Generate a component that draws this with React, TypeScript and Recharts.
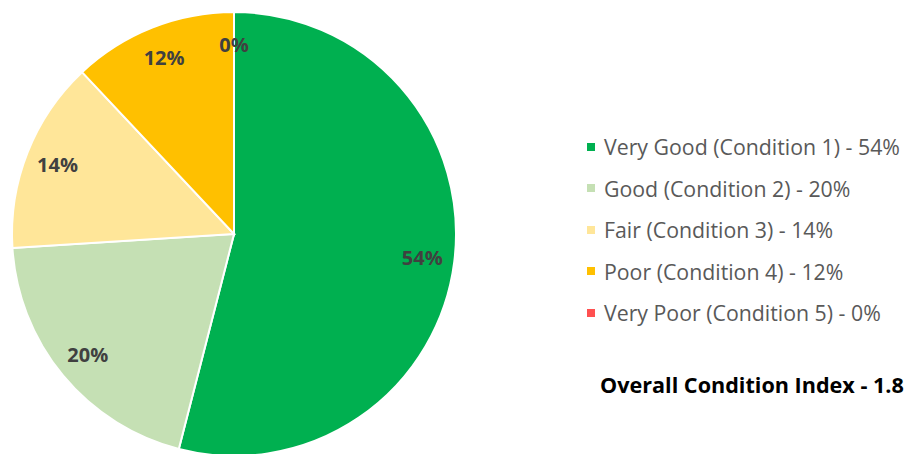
import { PieChart, Pie, Cell } from "recharts"

const CATEGORIES = [
  "Very Good (Condition 1)",
  "Good (Condition 2)",
  "Fair (Condition 3)",
  "Poor (Condition 4)",
  "Very Poor (Condition 5)",
]
const SHARES = [54, 20, 14, 12, 0]
const COLOURS = ["#00B050", "#C5E0B4", "#FFE699", "#FFC000", "#FF5050"]
const OVERALL_INDEX = "1.8"

const data = CATEGORIES.map((name, i) => ({ name, value: SHARES[i] }))

const RAD = Math.PI / 180

function renderLabel(props: any) {
  const { cx, cy, midAngle, outerRadius, value } = props
  const r = outerRadius * 0.855
  const x = cx + r * Math.cos(-midAngle * RAD)
  const y = cy + r * Math.sin(-midAngle * RAD)
  return (
    <text
      x={x}
      y={y}
      textAnchor="middle"
      dominantBaseline="central"
      fill="#404040"
      style={{ fontSize: 20, fontWeight: 700, fontFamily: "Open Sans, sans-serif" }}
    >
      {value}%
    </text>
  )
}

export default function App() {
  return (
    <div
      style={{
        position: "absolute",
        left: 0,
        top: 0,
        width: 920,
        height: 454,
        background: "#ffffff",
        overflow: "hidden",
        fontFamily: "Open Sans, sans-serif",
      }}
    >
      <PieChart width={920} height={454} margin={{ top: 0, right: 0, bottom: 0, left: 0 }}>
        <Pie
          data={data}
          dataKey="value"
          nameKey="name"
          cx={234}
          cy={234}
          outerRadius={222}
          startAngle={90}
          endAngle={-270}
          stroke="#ffffff"
          strokeWidth={2}
          label={renderLabel}
          labelLine={false}
          isAnimationActive={false}
        >
          {data.map((d, i) => (
            <Cell key={d.name} fill={COLOURS[i]} />
          ))}
        </Pie>
      </PieChart>

      {/* legend */}
      <div style={{ position: "absolute", left: 587, top: 126 }}>
        {data.map((d, i) => (
          <div
            key={d.name}
            style={{ display: "flex", alignItems: "center", height: 41.5 }}
          >
            <span
              style={{
                display: "inline-block",
                width: 8,
                height: 8,
                background: COLOURS[i],
                marginRight: 9,
              }}
            />
            <span style={{ fontSize: 21.3, color: "#595959", whiteSpace: "nowrap" }}>
              {d.name} - {d.value}%
            </span>
          </div>
        ))}
      </div>

      <div
        style={{
          position: "absolute",
          left: 600,
          top: 370,
          fontSize: 21.6,
          fontWeight: 700,
          color: "#000000",
          whiteSpace: "nowrap",
        }}
      >
        Overall Condition Index - {OVERALL_INDEX}
      </div>
    </div>
  )
}
